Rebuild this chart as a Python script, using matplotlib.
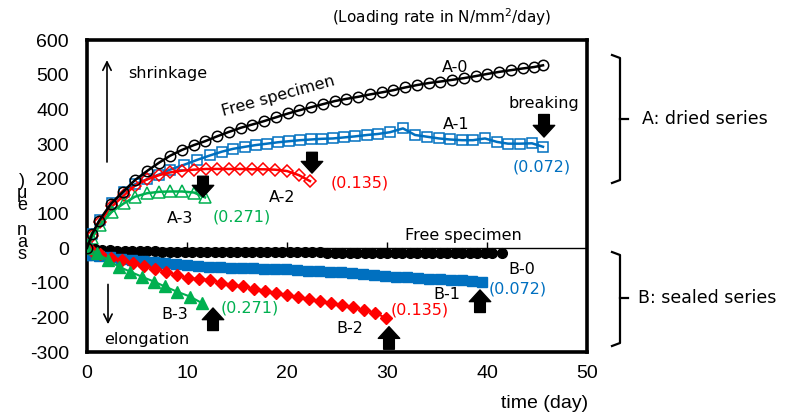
import matplotlib.pyplot as plt
from matplotlib.lines import Line2D

plt.rcParams['axes.unicode_minus'] = False

W, H = 808, 419

# A: dried series (open markers)
a0_t = [0, 0.5, 1.2, 2.4, 3.6, 4.8, 6.0, 7.2, 8.3, 9.5, 10.7, 11.8, 13.0, 14.2, 15.4, 16.5,
        17.7, 18.9, 20.1, 21.2, 22.4, 23.6, 24.8, 25.9, 27.1, 28.3, 29.5, 30.6, 31.8, 33.0,
        34.2, 35.3, 36.5, 37.7, 38.9, 40.0, 41.2, 42.4, 43.6, 44.7, 45.6]
a0 = [0, 40, 78, 128, 162, 196, 222, 246, 266, 283, 297, 308, 322, 335, 347, 356,
      366, 377, 388, 397, 406, 415, 424, 430, 436, 443, 449, 455, 463, 470,
      476, 480, 485, 490, 496, 502, 508, 513, 518, 522, 527]

a1_t = [0, 0.5, 1.3, 2.5, 3.7, 4.8, 6.0, 7.2, 8.3, 9.7, 11.0, 12.3, 13.5, 14.6, 15.8, 16.9,
        18.0, 19.1, 20.2, 21.3, 22.4, 23.5, 24.6, 25.7, 26.8, 28.0, 29.1, 30.3, 31.6, 32.8,
        34.0, 35.2, 36.3, 37.5, 38.6, 39.8, 41.0, 42.1, 43.3, 44.5, 45.6]
a1 = [0, 40, 80, 130, 162, 184, 198, 212, 226, 240, 254, 267, 278, 286, 292, 297,
      301, 305, 308, 311, 313, 315, 316, 319, 322, 326, 329, 334, 345, 326,
      321, 316, 313, 311, 311, 316, 306, 301, 301, 302, 292]

a2_t = [0, 0.5, 1.3, 2.5, 3.7, 4.8, 6.0, 7.2, 8.3, 9.5, 10.7, 11.9, 13.0, 14.2, 15.3, 16.5,
        17.6, 18.8, 20.0, 21.2, 22.3]
a2 = [0, 35, 75, 120, 152, 180, 198, 210, 218, 223, 226, 228, 228, 228, 228, 227,
      227, 226, 222, 210, 193]

a3_t = [0, 0.5, 1.3, 2.5, 3.7, 4.8, 6.0, 7.2, 8.3, 9.5, 10.7, 11.8]
a3 = [0, 30, 66, 105, 129, 148, 158, 162, 163, 163, 160, 146]

# B: sealed series (filled markers)
b0_t = [0, 0.75, 1.5, 2.25, 3.0, 3.75, 4.5, 5.25, 6.0, 6.75, 7.5, 8.25, 9.0, 9.75, 10.5,
        11.25, 12.0, 12.75, 13.5, 14.25, 15.0, 15.75, 16.5, 17.25, 18.0, 18.75, 19.5, 20.25,
        21.0, 21.75, 22.5, 23.25, 24.0, 24.75, 25.5, 26.25, 27.0, 27.75, 28.5, 29.25, 30.0,
        30.75, 31.5, 32.25, 33.0, 33.75, 34.5, 35.25, 36.0, 36.75, 37.5, 38.25, 39.0, 39.75,
        40.5, 41.5]
b0 = [0, -4, -6, -7, -8, -9, -9, -10, -10, -10, -11, -11, -11, -11, -11,
      -11, -12, -12, -12, -12, -12, -12, -12, -12, -12, -12, -12, -12,
      -12, -12, -12, -12, -13, -13, -13, -13, -13, -13, -13, -13, -13,
      -13, -13, -13, -13, -13, -13, -13, -13, -13, -13, -13, -13, -13,
      -13, -13]

b1_t = [0, 0.5, 1.2, 2.3, 3.4, 4.5, 5.6, 6.7, 7.8, 8.9, 10.0, 11.1, 12.2, 13.3, 14.4, 15.5,
        16.6, 17.7, 18.8, 19.9, 21.0, 22.1, 23.2, 24.3, 25.4, 26.5, 27.6, 28.7, 29.8, 30.9,
        32.0, 33.1, 34.2, 35.3, 36.4, 37.5, 38.5, 39.5]
b1 = [-20, -21, -23, -27, -31, -35, -38, -41, -44, -47, -50, -52, -54, -56, -57, -58,
      -59, -60, -61, -62, -63, -65, -66, -68, -70, -72, -74, -77, -80, -83,
      -85, -87, -88, -89, -91, -93, -95, -99]

b2_t = [0, 0.5, 1.3, 2.4, 3.5, 4.6, 5.7, 6.8, 7.9, 9.0, 10.1, 11.2, 12.3, 13.4, 14.5, 15.6,
        16.7, 17.8, 18.9, 20.0, 21.1, 22.2, 23.3, 24.4, 25.5, 26.6, 27.7, 28.8, 29.9]
b2 = [0, -8, -18, -28, -36, -44, -52, -60, -68, -78, -86, -90, -92, -100, -106, -111,
      -117, -123, -130, -136, -141, -147, -153, -159, -165, -171, -178, -187, -202]

b3_t = [0, 1.0, 2.1, 3.2, 4.3, 5.5, 6.7, 7.8, 9.0, 10.3, 11.5]
b3 = [0, -15, -35, -54, -68, -83, -97, -111, -126, -140, -159]

x_ticks = [0, 10, 20, 30, 40, 50]
y_ticks = [-300, -200, -100, 0, 100, 200, 300, 400, 500, 600]

BLUE = '#0070C0'
RED = '#FF0000'
GREEN = '#00B050'
TXT = 'DejaVu Sans'
NUM = 'Liberation Sans'


def px(x, y):
    # pixel position -> figure fraction
    return x / W, 1 - y / H


fig = plt.figure(figsize=(W / 100, H / 100), dpi=100)
ax = fig.add_axes([87 / W, 1 - 352 / H, 500 / W, 312 / H])

# dried series, open markers
ax.plot(a0_t, a0, color='black', lw=1.8, marker='o', ms=7.5, mfc='none', mew=1.1, zorder=5)
ax.plot(a1_t, a1, color=BLUE, lw=1.8, marker='s', ms=7, mfc='none', mew=1.1, zorder=4)
ax.plot(a2_t, a2, color=RED, lw=1.8, marker='D', ms=6.5, mfc='none', mew=1.1, zorder=4)
ax.plot(a3_t, a3, color=GREEN, lw=1.8, marker='^', ms=8, mfc='none', mew=1.1, zorder=4)

# sealed series, filled markers
ax.plot(b0_t, b0, color='black', lw=1.8, marker='o', ms=7, zorder=4)
ax.plot(b1_t, b1, color=BLUE, lw=1.5, marker='s', ms=7, mec=BLUE, zorder=4)
ax.plot(b2_t, b2, color=RED, lw=1.5, marker='D', ms=6.5, zorder=4)
ax.plot(b3_t, b3, color=GREEN, lw=1.5, marker='^', ms=8, zorder=4)

# zero line with small upward ticks
ax.axhline(0, color='black', lw=1, zorder=3)
ax.vlines(x_ticks[1:-1], 0, 17, color='black', lw=1, zorder=3)

ax.set_xlim(0, 50)
ax.set_ylim(-300, 600)
ax.set_xticks(x_ticks)
ax.set_yticks(y_ticks)
ax.tick_params(axis='x', length=0, pad=9, labelsize=14)
ax.tick_params(axis='y', length=0, pad=13, labelsize=14)
for lab in ax.get_xticklabels() + ax.get_yticklabels():
    lab.set_fontfamily(NUM)
for sp in ax.spines.values():
    sp.set_linewidth(2.6)

# annotations inside the plot
ax.text(4.1, 504, 'shrinkage', fontsize=11.5, family=TXT, va='center')
ax.text(6.0, -265, 'elongation', fontsize=11.5, family=TXT, va='center', ha='center')
ax.annotate('', xy=(2.0, 550), xytext=(2.0, 240),
            arrowprops=dict(arrowstyle='->,head_length=0.6,head_width=0.3', lw=1.2, color='black'))
ax.annotate('', xy=(2.1, -228), xytext=(2.1, -97),
            arrowprops=dict(arrowstyle='->,head_length=0.6,head_width=0.3', lw=1.2, color='black'))

ax.text(19.1, 438, 'Free specimen', fontsize=11.5, family=TXT, rotation=15.5,
        ha='center', va='center')
ax.text(37.6, 37, 'Free specimen', fontsize=11.5, family=TXT, ha='center', va='center')

labels = [
    ('A-0', 36.8, 522, 'black'), ('A-1', 36.9, 357, 'black'),
    ('A-2', 19.5, 146, 'black'), ('A-3', 9.3, 84, 'black'),
    ('(0.072)', 45.5, 233, BLUE), ('(0.135)', 27.3, 187, RED), ('(0.271)', 15.5, 89, GREEN),
    ('B-0', 43.5, -63, 'black'), ('B-1', 36.0, -135, 'black'),
    ('B-2', 26.3, -231, 'black'), ('B-3', 8.8, -193, 'black'),
    ('(0.072)', 43.1, -118, BLUE), ('(0.135)', 33.3, -179, RED), ('(0.271)', 16.3, -173, GREEN),
    ('breaking', 45.7, 418, 'black'),
]
for s, x, y, c in labels:
    ax.text(x, y, s, color=c, fontsize=11.5, family=TXT, ha='center', va='center', zorder=6)

# block arrows marking breaking
block = dict(arrowstyle='simple,head_length=0.6,head_width=1.1,tail_width=0.55',
             color='black', mutation_scale=14, shrinkA=0, shrinkB=0)
breaks = [((45.7, 320), (45.7, 385)), ((22.5, 216), (22.5, 276)), ((11.6, 147), (11.6, 207)),
          ((12.6, -173), (12.6, -238)), ((30.2, -227), (30.2, -292)), ((39.3, -121), (39.3, -186))]
for tip, tail in breaks:
    ax.annotate('', xy=tip, xytext=tail, arrowprops=block, annotation_clip=False, zorder=7)

# brackets on the right
for top, mid, bot, label, tx in [(55, 119, 183, 'A: dried series', 642),
                                  (252, 298, 346, 'B: sealed series', 638)]:
    xs = [612 / W, 620 / W, 620 / W, 612 / W]
    ys = [1 - top / H, 1 - (top + 3) / H, 1 - (bot - 3) / H, 1 - bot / H]
    fig.add_artist(Line2D(xs, ys, color='black', lw=1.6))
    fig.add_artist(Line2D([620 / W, 628 / W], [1 - mid / H, 1 - mid / H], color='black', lw=1.6))
    fig.text(*px(tx, mid), label, fontsize=12.5, family=TXT, va='center')

fig.text(*px(442, 17), '(Loading rate in N/mm$^2$/day)', fontsize=11, family=TXT,
         ha='center', va='center')
fig.text(*px(545, 403), 'time (day)', fontsize=14, family=NUM, ha='center', va='center')

# vertical, stacked y label as in the source image
fig.text(*px(22, 218), ')\nμ\ne\n\nn\na\ns', fontsize=13, family=NUM, ha='center',
         va='center', linespacing=0.62)

fig.savefig('out.png', dpi=100)
